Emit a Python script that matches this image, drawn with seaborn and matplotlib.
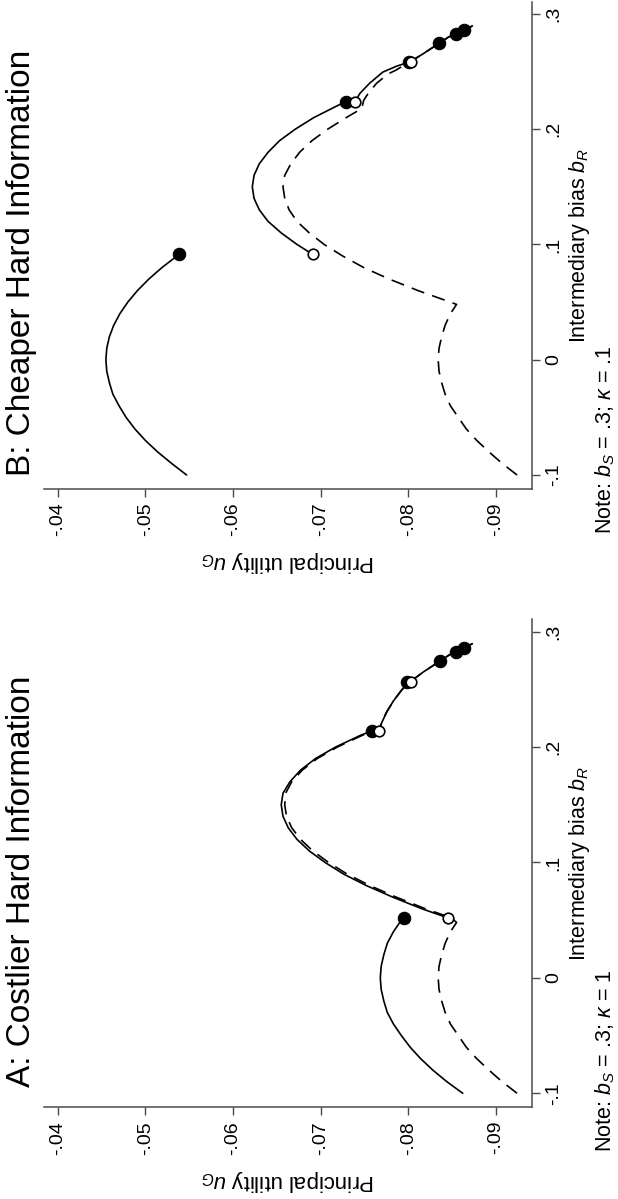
import matplotlib
matplotlib.use("Agg")
import matplotlib.pyplot as plt
import seaborn as sns

# ---------------- data: principal utility u_G against intermediary bias b_R ----------------
# Panel A: costlier hard information (kappa = 1)
a_low_b = [-0.10, -0.09, -0.08, -0.07, -0.06, -0.05, -0.04, -0.03, -0.02, -0.01,
           0.00, 0.01, 0.02, 0.03, 0.04, 0.05, 0.052]
a_low_u = [-0.0862, -0.0844, -0.0828, -0.0814, -0.0802, -0.0792, -0.0783, -0.0776, -0.0772, -0.0769,
           -0.0768, -0.0769, -0.0772, -0.0776, -0.0783, -0.0792, -0.0795]
a_mid_b = [0.052, 0.06, 0.07, 0.08, 0.09, 0.10, 0.11, 0.12, 0.13, 0.14,
           0.15, 0.16, 0.17, 0.18, 0.19, 0.20, 0.21, 0.214]
a_mid_u = [-0.0845, -0.0815, -0.0782, -0.0752, -0.0726, -0.0705, -0.0687, -0.0673, -0.0663, -0.0657,
           -0.0655, -0.0657, -0.0665, -0.0677, -0.0694, -0.0717, -0.0745, -0.0758]
a_tail_b = [0.214, 0.22, 0.23, 0.24, 0.25, 0.256, 0.265, 0.2745, 0.28, 0.2823, 0.286, 0.2896]
a_tail_u = [-0.0767, -0.0769, -0.0775, -0.0783, -0.0793, -0.0801, -0.0817, -0.0836, -0.0847, -0.0854, -0.0864, -0.0873]
a_dash_b = [-0.10, -0.09, -0.08, -0.07, -0.06, -0.05, -0.04, -0.03, -0.02, -0.01,
            0.00, 0.01, 0.02, 0.03, 0.04, 0.048,
            0.052, 0.06, 0.07, 0.08, 0.09, 0.10, 0.11, 0.12, 0.13, 0.14,
            0.15, 0.16, 0.17, 0.18, 0.19, 0.20, 0.21, 0.214,
            0.216, 0.22, 0.23, 0.24, 0.25, 0.256, 0.265, 0.2745, 0.28, 0.2823, 0.286, 0.2896]
a_dash_u = [-0.0924, -0.0907, -0.0892, -0.0878, -0.0866, -0.0857, -0.0848, -0.0842, -0.0838, -0.0835,
            -0.0834, -0.0835, -0.0838, -0.0842, -0.0848, -0.0855,
            -0.0849, -0.0819, -0.0786, -0.0756, -0.0730, -0.0709, -0.0691, -0.0677, -0.0667, -0.0661,
            -0.0659, -0.0660, -0.0667, -0.0679, -0.0696, -0.0719, -0.0747, -0.0760,
            -0.0767, -0.0769, -0.0775, -0.0783, -0.0793, -0.0801, -0.0817, -0.0836, -0.0847, -0.0854, -0.0864, -0.0873]
a_fill_b = [0.052, 0.214, 0.256, 0.2745, 0.2823, 0.286]
a_fill_u = [-0.0795, -0.0758, -0.0799, -0.0836, -0.0854, -0.0864]
a_open_b = [0.052, 0.214, 0.256]
a_open_u = [-0.0845, -0.0767, -0.0803]

# Panel B: cheaper hard information (kappa = .1)
b_low_b = [-0.10, -0.09, -0.08, -0.07, -0.06, -0.05, -0.04, -0.03, -0.02, -0.01,
           0.00, 0.01, 0.02, 0.03, 0.04, 0.05, 0.06, 0.07, 0.08, 0.09, 0.0913]
b_low_u = [-0.0547, -0.0530, -0.0514, -0.0500, -0.0488, -0.0478, -0.0470, -0.0463, -0.0459, -0.0456,
           -0.0455, -0.0456, -0.0459, -0.0464, -0.0471, -0.0480, -0.0491, -0.0504, -0.0519, -0.0536, -0.0538]
b_mid_b = [0.0913, 0.10, 0.11, 0.12, 0.13, 0.14, 0.15, 0.16, 0.17, 0.18, 0.19, 0.20, 0.21, 0.22, 0.224]
b_mid_u = [-0.0691, -0.0673, -0.0655, -0.0640, -0.0630, -0.0624, -0.0622, -0.0624, -0.0630, -0.0640,
           -0.0653, -0.0671, -0.0692, -0.0718, -0.0729]
b_tail_b = [0.224, 0.2313, 0.24, 0.2496, 0.2548, 0.2585, 0.265, 0.2745, 0.28, 0.2823, 0.286, 0.2896]
b_tail_u = [-0.0739, -0.0745, -0.0756, -0.0771, -0.0787, -0.0802, -0.0816, -0.0835, -0.0846, -0.0854, -0.0864, -0.0873]
b_dash_b = [-0.10, -0.09, -0.08, -0.07, -0.06, -0.05, -0.04, -0.03, -0.02, -0.01,
            0.00, 0.01, 0.02, 0.03, 0.04, 0.048,
            0.06, 0.07, 0.08, 0.09, 0.10, 0.11, 0.12, 0.13, 0.14,
            0.15, 0.16, 0.17, 0.18, 0.19, 0.20, 0.21, 0.218,
            0.225, 0.232, 0.24, 0.248, 0.2513, 0.2555, 0.2585, 0.265, 0.2745, 0.28, 0.2823, 0.286, 0.2896]
b_dash_u = [-0.0924, -0.0907, -0.0892, -0.0878, -0.0866, -0.0857, -0.0848, -0.0842, -0.0838, -0.0835,
            -0.0834, -0.0835, -0.0838, -0.0842, -0.0848, -0.0855,
            -0.0811, -0.0778, -0.0749, -0.0725, -0.0704, -0.0687, -0.0673, -0.0664, -0.0659,
            -0.0657, -0.0659, -0.0666, -0.0676, -0.0690, -0.0708, -0.0729, -0.0747,
            -0.0749, -0.0755, -0.0764, -0.0777, -0.0786, -0.0795, -0.0802, -0.0816, -0.0835, -0.0846, -0.0854, -0.0864, -0.0873]
b_fill_b = [0.0913, 0.224, 0.2585, 0.2745, 0.2823, 0.286]
b_fill_u = [-0.0538, -0.0729, -0.0801, -0.0835, -0.0854, -0.0864]
b_open_b = [0.0913, 0.224, 0.2585]
b_open_u = [-0.0691, -0.0739, -0.0803]

# axis ticks and texts
util_ticks = [-0.04, -0.05, -0.06, -0.07, -0.08, -0.09]
util_labels = ["-.04", "-.05", "-.06", "-.07", "-.08", "-.09"]
bias_ticks = [-0.1, 0.0, 0.1, 0.2, 0.3]
bias_labels = ["-.1", "0", ".1", ".2", ".3"]
titles = ["A: Costlier Hard Information", "B: Cheaper Hard Information"]
notes = [r"Note: $b_S$ = .3; $\kappa$ = 1", r"Note: $b_S$ = .3; $\kappa$ = .1"]
util_title = r"Principal utility $u_G$"
bias_title = r"Intermediary bias $b_R$"

# ---------------- styling ----------------
sns.set_theme(style="white")
plt.rcParams["font.family"] = ["Liberation Sans", "DejaVu Sans"]
plt.rcParams["mathtext.fontset"] = "custom"
plt.rcParams["mathtext.rm"] = "Liberation Sans"
plt.rcParams["mathtext.it"] = "Liberation Sans:italic"
plt.rcParams["mathtext.bf"] = "Liberation Sans:bold"

W, H = 618, 1199
fig = plt.figure(figsize=(W / 100, H / 100), dpi=100)
fig.patch.set_facecolor("white")


def fx(px):
    return px / W


def fy(py):
    return 1 - py / H


AX_LEFT, AX_RIGHT = 44.0, 531.7
LINE_W = 1.2
DASH = (0, (8, 5))
SPINE_C = "#4a4a4a"
TICK_FS = 14.0
UTIL_FS = 16.0
BIAS_FS = 15.5
NOTE_FS = 15.5
TITLE_FS = 24.0

panels = [
    dict(top=619.3, bottom=1107.0, title=titles[0], note=notes[0],
         low=(a_low_b, a_low_u), mid=(a_mid_b, a_mid_u), tail=(a_tail_b, a_tail_u),
         dash=(a_dash_b, a_dash_u), fill=(a_fill_b, a_fill_u), open=(a_open_b, a_open_u)),
    dict(top=1.6, bottom=488.7, title=titles[1], note=notes[1],
         low=(b_low_b, b_low_u), mid=(b_mid_b, b_mid_u), tail=(b_tail_b, b_tail_u),
         dash=(b_dash_b, b_dash_u), fill=(b_fill_b, b_fill_u), open=(b_open_b, b_open_u)),
]

for p in panels:
    ax = fig.add_axes([fx(AX_LEFT), fy(p["bottom"]),
                       fx(AX_RIGHT) - fx(AX_LEFT), (p["bottom"] - p["top"]) / H])
    ax.set_facecolor("white")

    # solid branches and the dashed comparison curve
    for key in ("low", "mid", "tail"):
        bb, uu = p[key]
        sns.lineplot(x=uu, y=bb, sort=False, estimator=None, color="black",
                     linewidth=LINE_W, ax=ax)
    bb, uu = p["dash"]
    sns.lineplot(x=uu, y=bb, sort=False, estimator=None, color="black",
                 linewidth=LINE_W, linestyle=DASH, ax=ax)

    # end points of the branches
    bb, uu = p["fill"]
    sns.scatterplot(x=uu, y=bb, s=80, color="black", edgecolor="black",
                    linewidth=0.8, zorder=4, ax=ax)
    bb, uu = p["open"]
    sns.scatterplot(x=uu, y=bb, s=58, facecolor="white", edgecolor="black",
                    linewidth=1.2, zorder=5, ax=ax)

    # utility runs left to right, bias runs bottom to top
    ax.set_xlim(-0.03844, -0.09407)
    ax.set_ylim(-0.1119, 0.3107)
    ax.set_xticks(util_ticks)
    ax.set_xticklabels(util_labels, rotation=90, fontsize=TICK_FS)
    ax.set_yticks(bias_ticks)
    ax.set_yticklabels(bias_labels, rotation=90, fontsize=TICK_FS, va="center")
    ax.yaxis.tick_right()
    ax.set_xlabel("")
    ax.set_ylabel("")
    for side in ("top", "left"):
        ax.spines[side].set_visible(False)
    for side in ("bottom", "right"):
        ax.spines[side].set_visible(True)
        ax.spines[side].set_color(SPINE_C)
        ax.spines[side].set_linewidth(1.1)
    ax.tick_params(axis="x", bottom=True, top=False, direction="out", length=6,
                   width=1.0, color=SPINE_C, pad=4, labelcolor="black")
    ax.tick_params(axis="y", left=False, right=True, labelleft=False, labelright=True,
                   direction="out", length=6, width=1.0, color=SPINE_C, pad=4,
                   labelcolor="black")
    ax.grid(False)

    mid_y = (p["top"] + p["bottom"]) / 2
    fig.text(fx(22.0), fy(mid_y + 18), p["title"], rotation=90, ha="center", va="center",
             fontsize=TITLE_FS, color="black")
    fig.text(fx((AX_LEFT + AX_RIGHT) / 2), fy(p["bottom"] + 73), util_title, rotation=180,
             ha="center", va="center", fontsize=UTIL_FS, color="black")
    fig.text(fx(580), fy(mid_y), bias_title, rotation=90, ha="center", va="center",
             fontsize=BIAS_FS, color="black")
    fig.text(fx(605.5), fy(p["bottom"] + 45), p["note"], rotation=90, ha="center", va="bottom",
             fontsize=NOTE_FS, color="black")

fig.savefig("out.png", dpi=100, facecolor="white")
